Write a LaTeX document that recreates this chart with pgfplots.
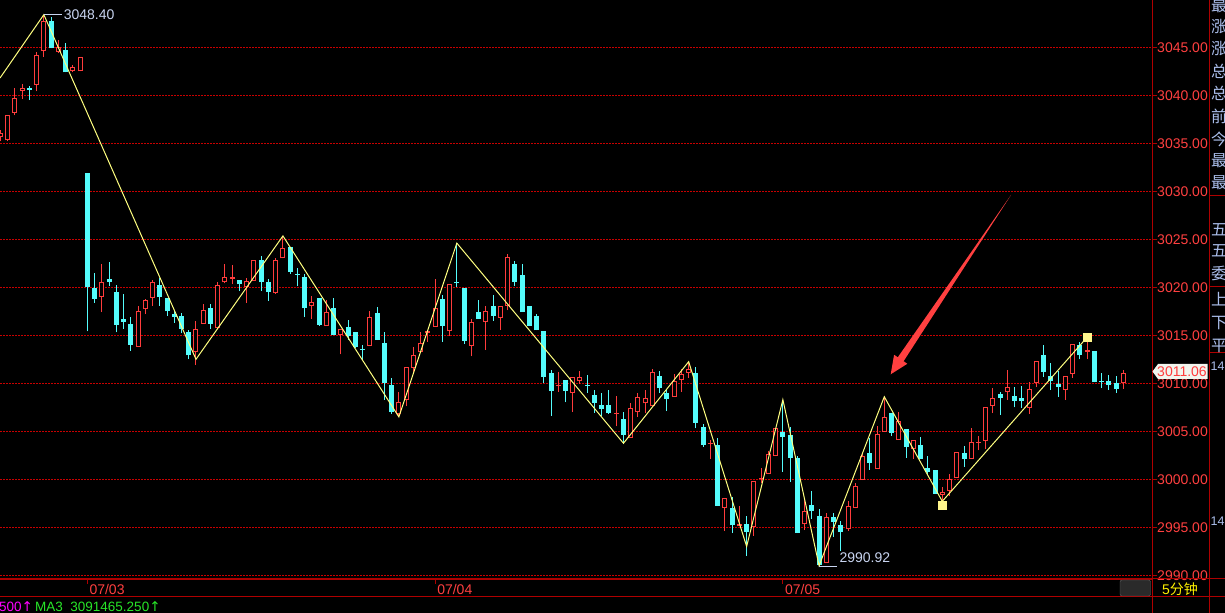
\documentclass[border=0pt]{standalone}
\usepackage{pgfplots}
\pgfplotsset{compat=1.18}
\usepackage{pgfplotstable}
\usepackage{fontspec}
\setmainfont{Liberation Sans}
\newfontfamily\cjk{Noto Sans CJK SC}
\newfontfamily\dejavu{DejaVu Sans}

\definecolor{upc}{RGB}{255,60,60}
\definecolor{dnc}{RGB}{84,252,252}
\definecolor{gridred}{RGB}{200,0,0}
\definecolor{framec}{RGB}{175,0,0}
\definecolor{zig}{RGB}{255,255,128}
\definecolor{sq}{RGB}{255,245,140}
\definecolor{lbl}{RGB}{200,212,240}
\definecolor{ticktxt}{RGB}{255,64,64}
\definecolor{side}{RGB}{170,190,235}
\definecolor{arrowc}{RGB}{255,64,64}
\definecolor{ma}{RGB}{40,230,40}
\definecolor{mag}{RGB}{255,0,255}
\definecolor{tagfill}{RGB}{242,245,238}
\definecolor{btnfill}{RGB}{42,42,42}
\definecolor{btnline}{RGB}{100,100,100}

\newcommand\lf{\fontsize{14bp}{16bp}\selectfont}
\newcommand\indf{\fontsize{13.5bp}{16bp}\selectfont}

% 5-minute bars, index 0 = first bar of 07/03; open high low close
% rising bars (close >= open)
\pgfplotstableread{
i o h l c
-12 3035.7 3036.4 3035.2 3036.1
-11 3035.3 3038.0 3035.2 3037.9
-10 3038.2 3040.8 3037.9 3039.7
-9 3040.5 3041.2 3039.6 3040.8
-7 3041.1 3044.5 3040.4 3044.2
-6 3044.6 3048.4 3044.0 3047.7
-4 3044.5 3045.8 3044.4 3045.0
-2 3042.5 3043.2 3042.4 3042.9
-1 3042.5 3044.0 3042.5 3044.0
2 3019.0 3022.4 3017.4 3020.5
7 3013.8 3018.1 3013.8 3017.5
8 3017.7 3018.8 3017.2 3018.7
9 3018.9 3020.8 3018.1 3020.6
15 3013.3 3016.5 3011.9 3015.7
16 3016.2 3018.3 3016.2 3017.6
18 3015.8 3020.5 3015.8 3020.2
19 3020.5 3022.4 3020.4 3021.1
20 3020.9 3022.3 3020.3 3021.1
22 3020.0 3021.0 3018.4 3020.7
23 3020.7 3022.8 3020.7 3022.8
26 3019.4 3023.0 3019.3 3022.8
27 3023.0 3025.35 3023.0 3024.1
31 3018.0 3019.1 3016.7 3018.5
33 3016.0 3018.7 3016.0 3017.4
35 3015.0 3015.7 3013.0 3015.7
39 3013.9 3017.5 3013.9 3016.9
43 3006.8 3009.1 3006.5 3008.1
44 3008.3 3011.7 3007.6 3011.7
45 3011.6 3013.8 3011.1 3012.9
46 3013.3 3015.3 3013.3 3014.2
47 3015.2 3015.4 3014.3 3015.4
48 3015.9 3020.9 3015.9 3017.8
50 3015.4 3020.3 3014.9 3020.3
53 3013.9 3016.7 3012.8 3016.4
55 3016.4 3018.0 3013.5 3017.5
57 3016.8 3018.0 3015.6 3018.0
58 3018.1 3023.5 3017.6 3023.2
65 3009.7 3011.2 3009.1 3009.8
67 3009.0 3010.7 3007.0 3010.7
68 3010.2 3011.3 3009.9 3010.7
73 3006.8 3008.7 3005.5 3006.9
75 3004.3 3007.9 3004.3 3007.4
76 3007.0 3009.0 3006.5 3008.6
77 3007.9 3009.3 3006.9 3008.5
78 3007.6 3011.5 3007.6 3011.2
81 3008.6 3011.0 3008.6 3010.2
82 3010.3 3011.5 3009.1 3011.0
83 3011.1 3012.25 3010.6 3011.5
86 3003.7 3004.1 3002.1 3003.8
88 2997.0 2998.1 2994.6 2998.1
90 2995.1 2997.2 2995.1 2995.3
92 2995.0 2999.8 2994.1 2999.8
93 3000.0 3001.2 2999.6 3000.1
94 3000.6 3002.9 3000.6 3002.6
95 3002.4 3005.3 3002.4 3005.3
99 2995.3 2997.8 2994.7 2996.7
102 2991.3 2996.5 2991.3 2996.1
105 2994.8 2997.7 2994.6 2997.2
106 2997.0 2999.6 2997.0 2999.3
107 2999.9 3002.6 2999.9 3002.4
109 3001.1 3005.5 3001.1 3004.7
110 3004.9 3008.6 3004.9 3006.5
112 3004.1 3007.0 3004.1 3006.1
114 3003.2 3004.1 3002.1 3004.1
118 2998.4 2999.2 2997.7 2998.7
119 2998.8 3000.5 2998.3 3000.0
120 3000.1 3002.8 3000.1 3002.8
122 3002.1 3005.3 3002.1 3003.9
123 3003.8 3004.5 3003.0 3003.9
124 3004.0 3007.5 3003.2 3007.5
125 3007.6 3009.5 3006.9 3008.5
127 3009.1 3011.4 3008.3 3009.6
130 3007.4 3010.1 3006.8 3009.4
131 3010.0 3012.3 3009.6 3012.3
135 3009.3 3010.8 3008.3 3010.8
136 3011.0 3014.1 3010.6 3014.1
138 3013.3 3015.0 3012.5 3013.5
143 3010.0 3011.4 3009.4 3011.06
}\upbars

% falling bars (close < open)
\pgfplotstableread{
i o h l c
-8 3040.8 3041.0 3039.5 3040.6
-5 3047.7 3048.2 3044.9 3044.9
-3 3044.7 3045.5 3042.4 3042.4
0 3031.9 3031.9 3015.4 3020.0
1 3019.9 3021.5 3018.4 3018.8
3 3020.9 3022.6 3020.1 3020.6
4 3019.5 3020.2 3015.3 3016.1
5 3016.7 3019.3 3015.7 3016.4
6 3016.2 3016.9 3013.4 3014.0
10 3020.2 3021.0 3018.1 3019.0
11 3018.9 3018.9 3017.0 3017.5
12 3017.2 3017.5 3016.3 3016.9
13 3017.0 3017.3 3015.2 3015.7
14 3015.3 3015.5 3012.5 3012.9
17 3017.8 3018.3 3015.7 3016.2
21 3020.8 3020.8 3019.6 3020.3
24 3022.8 3023.3 3019.6 3020.5
25 3020.6 3020.9 3018.6 3019.5
28 3024.2 3024.2 3021.4 3021.6
29 3021.4 3022.0 3020.1 3021.3
30 3021.1 3021.4 3016.9 3017.8
32 3018.9 3018.9 3016.0 3016.1
34 3017.8 3018.9 3015.0 3015.0
36 3015.9 3016.6 3014.5 3014.9
37 3015.3 3015.3 3013.7 3013.8
38 3013.6 3014.0 3012.4 3013.5
40 3017.3 3017.9 3014.5 3014.5
41 3014.2 3015.3 3008.3 3010.0
42 3009.8 3010.5 3006.8 3007.0
49 3018.8 3019.2 3014.3 3016.0
51 3020.6 3024.6 3020.0 3020.4
52 3019.9 3019.9 3014.1 3014.4
54 3017.4 3018.7 3016.7 3016.7
56 3018.0 3019.2 3016.5 3017.0
59 3022.4 3022.7 3020.1 3020.6
60 3021.3 3022.4 3017.4 3017.4
61 3018.0 3018.1 3016.0 3016.0
62 3017.0 3017.2 3015.5 3015.5
63 3015.4 3015.4 3010.0 3010.7
64 3011.1 3011.4 3006.6 3009.2
66 3010.3 3010.3 3008.0 3009.2
69 3009.8 3010.9 3009.0 3009.7
70 3008.8 3009.3 3006.9 3007.9
71 3007.7 3009.0 3006.6 3007.3
72 3007.7 3009.3 3006.8 3006.9
74 3006.3 3007.0 3003.7 3004.6
79 3010.8 3011.3 3009.0 3009.5
80 3009.0 3009.3 3007.1 3008.4
84 3011.1 3011.7 3005.3 3005.9
85 3005.4 3005.8 3003.4 3003.6
87 3003.6 3004.3 2997.2 2997.2
89 2997.0 2998.2 2994.4 2995.2
91 2995.3 2996.2 2992.0 2994.5
96 3004.9 3008.3 3000.8 3004.4
97 3004.6 3005.4 2999.7 3002.2
98 3002.2 3002.4 2994.4 2994.4
100 2997.3 2998.8 2995.9 2996.7
101 2996.2 2996.9 2990.92 2991.1
103 2996.1 2996.5 2994.0 2995.5
104 2995.2 2995.7 2992.5 2994.5
108 3002.7 3004.3 3001.0 3001.7
111 3006.9 3006.9 3004.5 3004.8
113 3005.2 3005.2 3002.2 3003.4
115 3003.6 3004.4 3002.1 3002.1
116 3001.2 3002.4 3000.4 3000.8
117 3001.0 3001.0 2998.5 2998.5
121 3002.7 3003.5 3001.3 3002.1
126 3008.9 3009.1 3006.7 3008.5
128 3008.7 3009.6 3007.5 3008.2
129 3008.5 3009.7 3007.4 3008.2
132 3012.9 3014.0 3010.7 3011.2
133 3010.8 3012.1 3009.3 3010.2
134 3009.9 3011.3 3008.6 3009.6
137 3014.0 3014.3 3012.5 3012.9
139 3013.4 3013.4 3010.1 3010.1
140 3010.2 3011.1 3009.5 3010.1
141 3010.2 3010.9 3009.3 3009.8
142 3010.0 3010.8 3009.0 3009.4
}\dnbars

% zigzag pivots
\pgfplotstableread{
i p
-12.05 3041.8
-6 3048.4
15 3012.5
27 3025.35
43 3006.5
51 3024.6
74 3003.75
83 3012.25
91 2993.0
96 3008.3
101 2991.0
110 3008.6
118 2997.7
138 3014.8
}\zigzag

\begin{document}
\begin{tikzpicture}
\fill[black] (0bp,0bp) rectangle (1225bp,613bp);
\useasboundingbox (0bp,0bp) rectangle (1225bp,613bp);
\clip (0bp,0bp) rectangle (1225bp,613bp);

\begin{axis}[
  at={(0bp,34bp)}, anchor=south west,
  scale only axis, width=1152bp, height=579bp,
  xmin=-12.05, xmax=146.95,
  ymin=2989.61, ymax=3049.93,
  axis x line*=bottom, axis y line*=right,
  axis line style={draw=framec, line width=1bp, -},
  xtick={0,48,96}, xticklabels={07/03,07/04,07/05},
  ytick={2990,2995,...,3045},
  scaled y ticks=false,
  tick align=outside, major tick length=5bp,
  tick style={draw=framec, line width=1bp},
  xticklabel style={font=\lf, text=ticktxt, anchor=north west, inner sep=0pt, xshift=2bp},
  yticklabel style={font=\lf, text=ticktxt, anchor=west, inner sep=0pt,
    /pgf/number format/.cd, fixed, fixed zerofill, precision=2, 1000 sep={}, assume math mode=true},
]
% dotted red price grid
\pgfplotsinvokeforeach{2990,2995,...,3045}{
  \draw[gridred, line width=1bp, dash pattern=on 2bp off 1bp] (axis cs:-12.05,#1) -- (axis cs:146.95,#1);
}
% rising bars: wick, red outline, black inside
\addplot[draw=upc, line width=1bp, mark=none, quiver={u=0, v={\thisrow{h}-\thisrow{l}}}]
  table[x=i, y=l] {\upbars};
\addplot[draw=upc, line width=5bp, mark=none, quiver={u=0, v={max(\thisrow{c}-\thisrow{o},0.104)}}]
  table[x=i, y=o] {\upbars};
\addplot[draw=black, line width=3bp, mark=none, quiver={u=0, v={max(\thisrow{c}-\thisrow{o}-0.208,0)}}]
  table[x=i, y expr={\thisrow{o}+0.104}] {\upbars};
% falling bars: cyan wick and filled body
\addplot[draw=dnc, line width=1bp, mark=none, quiver={u=0, v={\thisrow{h}-\thisrow{l}}}]
  table[x=i, y=l] {\dnbars};
\addplot[draw=dnc, line width=5bp, mark=none, quiver={u=0, v={max(\thisrow{o}-\thisrow{c},0.104)}}]
  table[x=i, y=c] {\dnbars};

\addplot[zig, line width=1bp, mark=none] table[x=i, y=p] {\zigzag};
\addplot[only marks, mark=square*, mark size=4bp, mark options={fill=sq, draw=sq}]
  coordinates {(118,2997.3) (138,3014.8)};

\draw[lbl, line width=1bp] (axis cs:-6,3048.4) -- ++(18bp,0bp)
  node[anchor=west, inner sep=1.5bp, text=lbl, font=\lf] {3048.40};
\draw[lbl, line width=1bp] (axis cs:101,2990.92) -- ++(18bp,0bp)
  node[anchor=base west, inner sep=0pt, xshift=2bp, yshift=3.5bp, text=lbl, font=\lf] {2990.92};
\end{axis}

\begin{scope}[shift={(0bp,613bp)}, x=1bp, y=-1bp]
  % frame lines
  \draw[framec, line width=1bp] (0,578.5) -- (1225,578.5);
  \draw[framec, line width=1bp] (0,597) -- (1225,597);
  \draw[framec, line width=1bp] (1152,0) -- (1152,613);
  \draw[framec, line width=1bp] (1209,0) -- (1209,613);
  \draw[framec, line width=1bp] (1209,196) -- (1225,196);
  \draw[framec, line width=1bp] (1209,287) -- (1225,287);
  \draw[framec, line width=1bp] (1209,353) -- (1225,353);

  % current price tag
  \fill[tagfill] (1152.5,371.5) -- (1158,364) -- (1207.5,364) -- (1207.5,379) -- (1158,379) -- cycle;
  \node[text=upc, font=\lf, inner sep=0pt] at (1182,371.5) {3011.06};

  % red arrow
  \fill[arrowc] (1011,195) -- (903.6,361.2) -- (907.3,363.8) -- (890.7,374.3)
    -- (894.1,354.8) -- (897.8,357.3) -- cycle;

  % period button
  \filldraw[fill=btnfill, draw=btnline, rounded corners=2bp] (1120,580) rectangle (1150.5,596);
  \node[anchor=west, inner sep=0pt, text=yellow, font=\lf] at (1162,589) {5{\cjk 分钟}};

  % indicator line
  \node[anchor=west, inner sep=0pt, text=mag, font=\indf] at (-1,607) {500{\dejavu ↑}};
  \node[anchor=west, inner sep=0pt, text=ma, font=\indf] at (35,607) {MA3\ \ 3091465.250{\dejavu ↑}};

  % side panel (cut off in the screenshot)
  \foreach \ch/\yy in {最/6,涨/27,涨/49,总/71,总/93,前/116,今/139,最/161,最/183,
                      五/230,五/251,委/273,上/299,下/323,平/346}
    \node[anchor=west, inner sep=0pt, text=side, font=\cjk\fontsize{16bp}{18bp}\selectfont] at (1211,\yy) {\ch};
  \node[anchor=west, inner sep=0pt, text=side, font=\fontsize{12.5bp}{14bp}\selectfont] at (1210.5,366) {14};
  \node[anchor=west, inner sep=0pt, text=side, font=\fontsize{12.5bp}{14bp}\selectfont] at (1210.5,521) {14};
\end{scope}
\end{tikzpicture}
\end{document}
